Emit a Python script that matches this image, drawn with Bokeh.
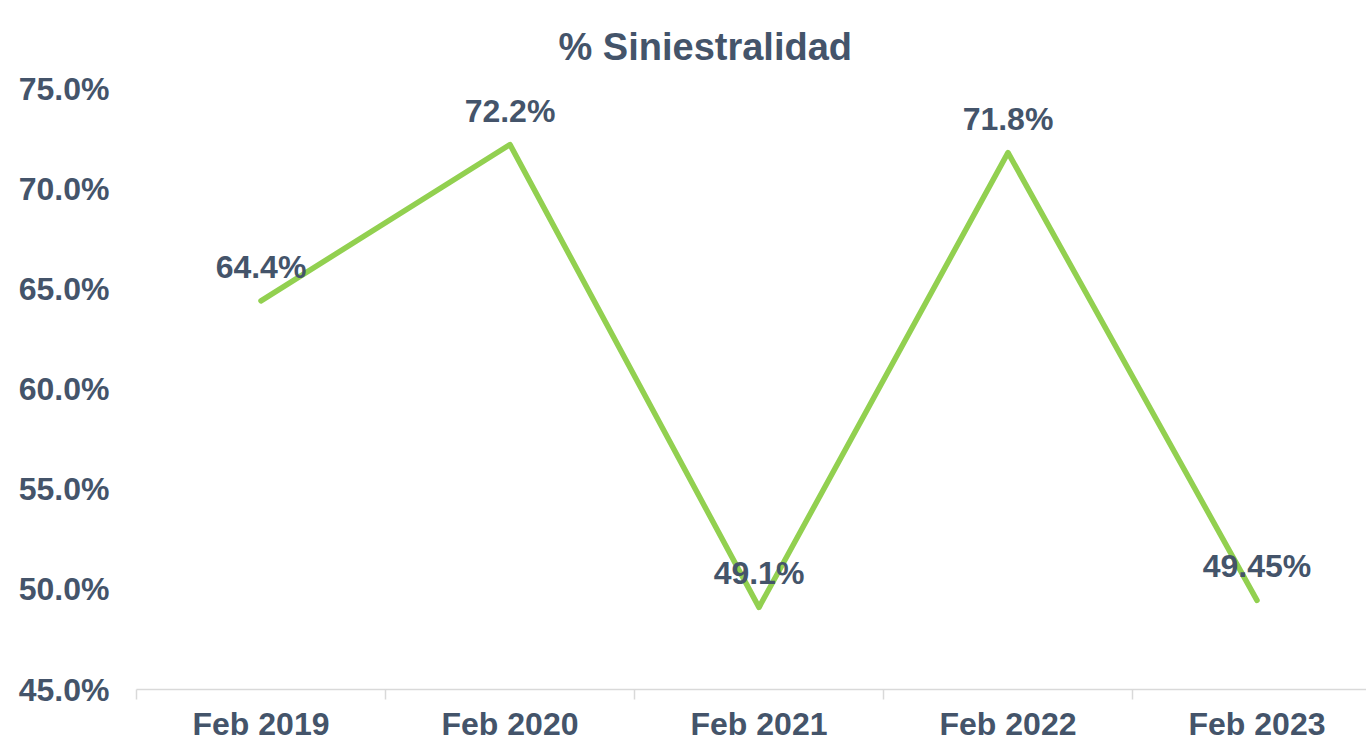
from bokeh.plotting import figure
from bokeh.models import FixedTicker, Range1d, ColumnDataSource
from bokeh.core.properties import value
from bokeh.embed import file_html
from bokeh.resources import INLINE

categories = ["Feb 2019", "Feb 2020", "Feb 2021", "Feb 2022", "Feb 2023"]
values = [64.4, 72.2, 49.1, 71.8, 49.45]
labels = ["64.4%", "72.2%", "49.1%", "71.8%", "49.45%"]
y_ticks = [45, 50, 55, 60, 65, 70, 75]
y_tick_labels = ["45.0%", "50.0%", "55.0%", "60.0%", "65.0%", "70.0%", "75.0%"]

TXT = "#44546A"
FONT = "Liberation Sans"

xs = [i + 0.5 for i in range(len(categories))]
src = ColumnDataSource(dict(x=xs, y=values, lab=labels))

p = figure(width=1366, height=744, output_backend="svg", toolbar_location=None,
           x_range=Range1d(0, 1230 / 249), y_range=Range1d(45, 75),
           min_border_left=136, min_border_right=0, min_border_top=88, min_border_bottom=54,
           title="% Siniestralidad")
p.outline_line_color = None
p.xgrid.visible = False
p.ygrid.visible = False

p.title.align = "left"
p.title.offset = 422
p.title.text_font = FONT
p.title.text_font_style = "bold"
p.title.text_font_size = "38px"
p.title.text_color = TXT
p.title.standoff = 42

p.line("x", "y", source=src, line_color="#92D050", line_width=5.5, line_cap="round", line_join="round")
p.text("x", "y", text="lab", source=src, text_font=value(FONT), text_font_style="bold",
       text_font_size="32px", text_color=TXT, text_align="center", text_baseline="middle",
       y_offset=-34)

# x axis
p.xaxis.ticker = FixedTicker(ticks=xs, minor_ticks=[0, 1, 2, 3, 4, 5])
p.xaxis.major_label_overrides = {x: c for x, c in zip(xs, categories)}
p.xaxis.major_tick_line_color = None
p.xaxis.major_tick_out = 0
p.xaxis.major_tick_in = 0
p.xaxis.minor_tick_line_color = "#D9D9D9"
p.xaxis.minor_tick_out = 10
p.xaxis.minor_tick_in = 0
p.xaxis.minor_tick_line_width = 1.5
p.xaxis.axis_line_color = "#D9D9D9"
p.xaxis.axis_line_width = 1.5
p.xaxis.major_label_text_font = FONT
p.xaxis.major_label_text_font_style = "bold"
p.xaxis.major_label_text_font_size = "32px"
p.xaxis.major_label_text_color = TXT
p.xaxis.major_label_standoff = 6

# y axis
p.yaxis.ticker = FixedTicker(ticks=y_ticks)
p.yaxis.major_label_overrides = {t: l for t, l in zip(y_ticks, y_tick_labels)}
p.yaxis.axis_line_color = None
p.yaxis.major_tick_line_color = None
p.yaxis.minor_tick_line_color = None
p.yaxis.major_tick_out = 0
p.yaxis.major_tick_in = 0
p.yaxis.major_label_text_font = FONT
p.yaxis.major_label_text_font_style = "bold"
p.yaxis.major_label_text_font_size = "32px"
p.yaxis.major_label_text_color = TXT
p.yaxis.major_label_standoff = 27

open("out.html", "w").write(file_html(p, INLINE))
